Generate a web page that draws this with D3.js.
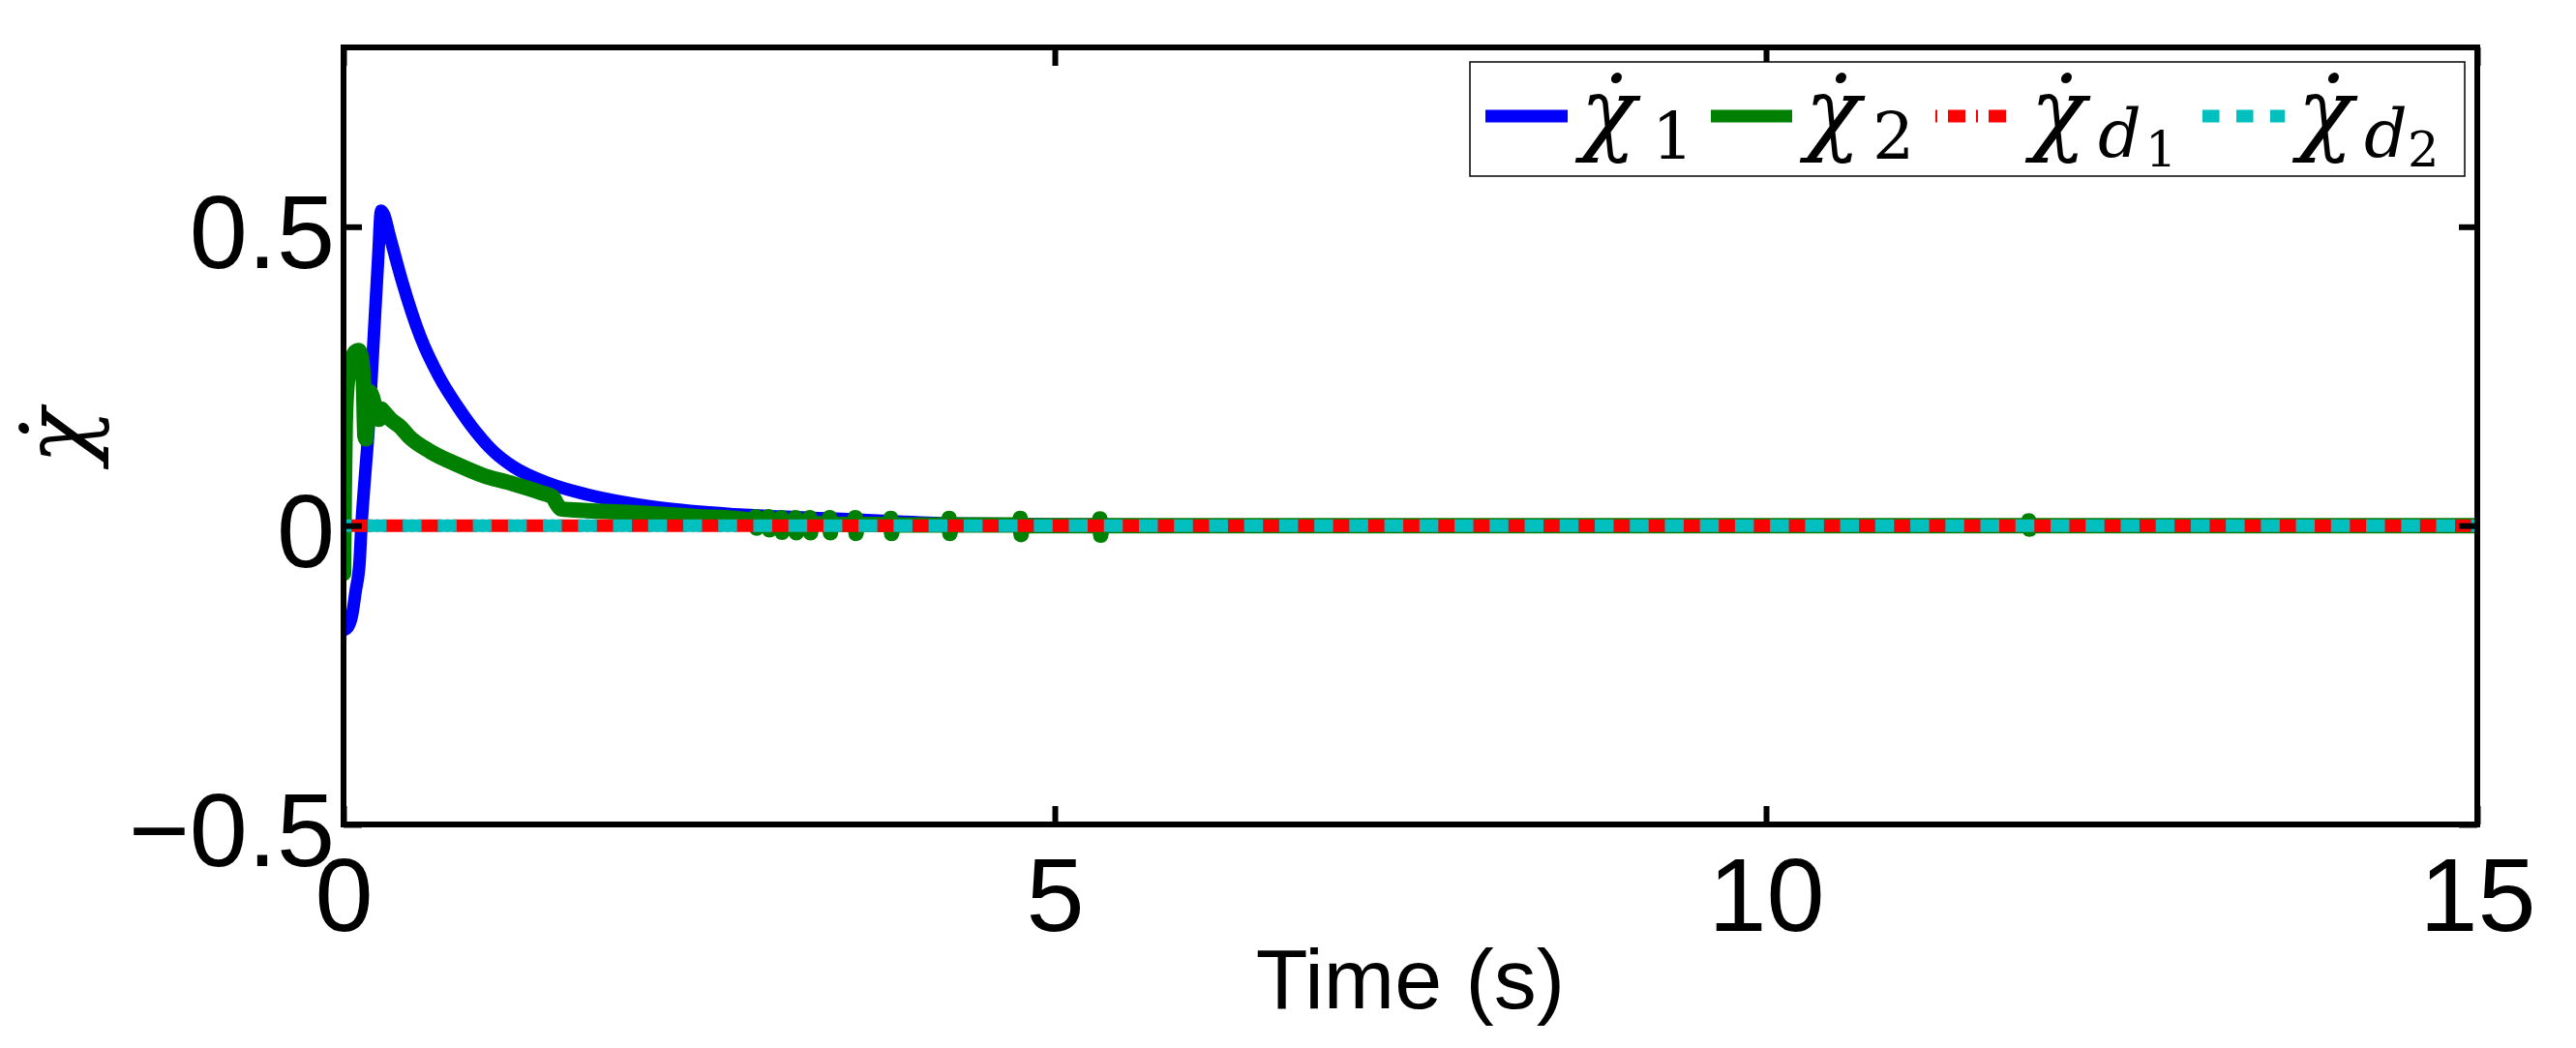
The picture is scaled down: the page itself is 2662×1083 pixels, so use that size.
<!DOCTYPE html>
<html>
<head>
<meta charset="utf-8">
<script src="https://cdn.jsdelivr.net/npm/d3@7"></script>
<style>
  body { margin: 0; background: #fff; }
</style>
</head>
<body>
<div id="chart"></div>
<script>
var svgWidth = 2662;
var svgHeight = 1083;
var margin = {top: 49, right: 102, bottom: 231, left: 355};
var width = svgWidth - margin.left - margin.right;
var height = svgHeight - margin.top - margin.bottom;

var xTicks = [0, 5, 10, 15];
var xTickLabels = ["0", "5", "10", "15"];
var yTicks = [-0.5, 0, 0.5];
var yTickLabels = ["\u22120.5", "0", "0.5"];

// [time, value]
var chi1 = [
  [0, -0.175], [0.03, -0.17], [0.06, -0.15], [0.085, -0.11], [0.113, -0.06],
  [0.126, 0], [0.15, 0.08], [0.175, 0.157], [0.209, 0.30], [0.243, 0.445],
  [0.264, 0.527], [0.285, 0.52], [0.32, 0.489], [0.41, 0.41], [0.54, 0.316],
  [0.67, 0.25], [0.80, 0.20], [0.93, 0.157], [1.05, 0.125], [1.19, 0.099],
  [1.45, 0.07], [1.71, 0.052], [2.0, 0.038], [2.23, 0.03], [2.75, 0.019],
  [3.5, 0.011], [4.2, 0.004], [5.0, 0.002], [6.0, 0.001], [8.0, 0], [15, 0]
];

var chi2 = [
  [0, -0.08], [0.005, 0.05], [0.012, 0.17], [0.025, 0.235], [0.05, 0.27],
  [0.08, 0.29], [0.107, 0.293], [0.125, 0.28], [0.14, 0.24], [0.15, 0.15],
  [0.158, 0.145], [0.166, 0.2], [0.175, 0.225], [0.195, 0.22], [0.215, 0.205],
  [0.235, 0.18], [0.25, 0.178], [0.265, 0.195], [0.285, 0.19], [0.33, 0.178],
  [0.4, 0.165], [0.46, 0.149], [0.61, 0.124], [0.8, 0.102], [0.98, 0.084],
  [1.19, 0.07], [1.39, 0.055], [1.47, 0.048], [1.5, 0.036], [1.53, 0.028],
  [1.71, 0.025], [2.0, 0.022], [2.23, 0.019], [2.5, 0.015], [2.75, 0.012],
  [2.89, 0.009], [2.897, 0.015], [2.903, -0.004], [2.91, 0.008],
  [2.98, 0.007], [2.987, 0.015], [2.993, -0.007], [3.0, 0.006],
  [3.07, 0.004], [3.077, 0.013], [3.083, -0.011], [3.09, 0.003],
  [3.17, 0.004], [3.177, 0.013], [3.183, -0.012], [3.19, 0.003],
  [3.27, 0.004], [3.277, 0.013], [3.283, -0.012], [3.29, 0.003],
  [3.41, 0.003], [3.417, 0.013], [3.423, -0.012], [3.43, 0.002],
  [3.59, 0.002], [3.597, 0.013], [3.603, -0.013], [3.61, 0.002],
  [3.84, 0.002], [3.847, 0.012], [3.853, -0.013], [3.86, 0.001],
  [4.25, 0.001], [4.257, 0.012], [4.263, -0.013], [4.27, 0.001],
  [4.75, 0.001], [4.757, 0.012], [4.763, -0.015], [4.77, 0],
  [5.31, 0], [5.317, 0.011], [5.323, -0.016], [5.33, 0],
  [6.0, 0], [11.84, 0], [11.847, 0.008], [11.853, -0.006], [11.86, 0], [15, 0]
];

var chiD1 = [[0, 0], [15, 0]];
var chiD2 = [[0, 0], [15, 0]];

var legendSub = ["1", "2", "d", "d"];
var legendSubSub = ["", "", "1", "2"];

var mathFont = "'DejaVu Serif', serif";
var axisFont = "'Liberation Sans', Arial, sans-serif";

var svg = d3.select("#chart")
  .append("svg")
  .attr("width", svgWidth)
  .attr("height", svgHeight);

var chartMain = svg.append("g")
  .attr("transform", `translate(${margin.left}, ${margin.top})`);

var xLinearScale = d3.scaleLinear().domain([0, 15]).range([0, width]);
var yLinearScale = d3.scaleLinear().domain([-0.5, 0.8]).range([height, 0]);

chartMain.append("clipPath")
  .attr("id", "plotclip")
  .append("rect")
  .attr("width", width)
  .attr("height", height);

var line = d3.line()
  .x(d => xLinearScale(d[0]))
  .y(d => yLinearScale(d[1]))
  .curve(d3.curveMonotoneX);

var plot = chartMain.append("g").attr("clip-path", "url(#plotclip)");

plot.append("path").datum(chi1)
  .attr("d", line)
  .attr("fill", "none")
  .attr("stroke", "#0000ff")
  .attr("stroke-width", 13)
  .attr("stroke-linejoin", "round")
  .attr("stroke-linecap", "round");

plot.append("path").datum(chi2)
  .attr("d", line)
  .attr("fill", "none")
  .attr("stroke", "#008000")
  .attr("stroke-width", 16)
  .attr("stroke-linejoin", "round")
  .attr("stroke-linecap", "round");

plot.append("path").datum(chiD1)
  .attr("d", line)
  .attr("fill", "none")
  .attr("stroke", "#ff0000")
  .attr("stroke-width", 13)
  .attr("stroke-dasharray", "24.23,5,2,5")
  .attr("stroke-dashoffset", 31.63);

plot.append("path").datum(chiD2)
  .attr("d", line)
  .attr("fill", "none")
  .attr("stroke", "#00bfbf")
  .attr("stroke-width", 13)
  .attr("stroke-dasharray", "19.5,16.73")
  .attr("stroke-dashoffset", 11.3);

// axes, box with inward ticks on all four sides
var bottomAxis = d3.axisBottom(xLinearScale)
  .tickValues(xTicks)
  .tickFormat((d, i) => xTickLabels[i])
  .tickSize(-19)
  .tickPadding(33);
var topAxis = d3.axisTop(xLinearScale).tickValues(xTicks).tickFormat("").tickSize(-19);
var leftAxis = d3.axisLeft(yLinearScale)
  .tickValues(yTicks)
  .tickFormat((d, i) => yTickLabels[i])
  .tickSize(-19)
  .tickPadding(9);
var rightAxis = d3.axisRight(yLinearScale).tickValues(yTicks).tickFormat("").tickSize(-19);

var gx = chartMain.append("g").attr("transform", `translate(0, ${height})`).call(bottomAxis);
var gt = chartMain.append("g").call(topAxis);
var gy = chartMain.append("g").call(leftAxis);
var gr = chartMain.append("g").attr("transform", `translate(${width}, 0)`).call(rightAxis);

[gx, gt, gy, gr].forEach(function(g) {
  g.select(".domain").remove();
  g.selectAll(".tick line").attr("stroke", "#000").attr("stroke-width", 6);
  g.selectAll(".tick text")
    .attr("fill", "#000")
    .style("font-family", axisFont)
    .style("font-size", "108px");
});
gy.selectAll(".tick text").attr("dy", "0.39em");

chartMain.append("rect")
  .attr("width", width)
  .attr("height", height)
  .attr("fill", "none")
  .attr("stroke", "#000")
  .attr("stroke-width", 6);

chartMain.append("text")
  .attr("x", width / 2)
  .attr("y", 993)
  .attr("text-anchor", "middle")
  .style("font-family", axisFont)
  .style("font-size", "88px")
  .text("Time (s)");

// chi with combining dot above
function chiDot(g, cx, baseY) {
  g.append("text")
    .attr("x", cx).attr("y", baseY)
    .attr("text-anchor", "middle")
    .style("font-family", mathFont)
    .style("font-style", "italic")
    .style("font-size", "95px")
    .text("\u03c7\u0307");
}

var yLabel = svg.append("g").attr("transform", "translate(92, 451) rotate(-90)");
chiDot(yLabel, 0, 0);

// legend
var legend = svg.append("g").attr("transform", "translate(1519, 64)");
legend.append("rect")
  .attr("width", 1028)
  .attr("height", 118)
  .attr("fill", "#fff")
  .attr("stroke", "#000")
  .attr("stroke-width", 1.5);

var legendItems = [
  {color: "#0000ff", x0: 16, len: 85, dash: null, chiX: 143, subX: 188, subsubX: 0},
  {color: "#008000", x0: 249, len: 84, dash: null, chiX: 375, subX: 416, subsubX: 0},
  {color: "#ff0000", x0: 481, len: 73, dash: "2,11,18,11", chiX: 608, subX: 649, subsubX: 698},
  {color: "#00bfbf", x0: 757, len: 85, dash: "17.5,17.5", chiX: 884, subX: 924, subsubX: 969}
];

legendItems.forEach(function(item, i) {
  legend.append("line")
    .attr("x1", item.x0).attr("x2", item.x0 + item.len)
    .attr("y1", 56).attr("y2", 56)
    .attr("stroke", item.color)
    .attr("stroke-width", 13)
    .attr("stroke-dasharray", item.dash);

  chiDot(legend, item.chiX, 84);

  var isDigit = legendSubSub[i] === "";
  var sub = legend.append("text")
    .attr("x", item.subX).attr("y", isDigit ? 100 : 98)
    .style("font-family", mathFont);
  sub.append("tspan")
    .style("font-style", isDigit ? "normal" : "italic")
    .style("font-size", isDigit ? "68px" : "70px")
    .text(legendSub[i]);
  if (!isDigit) {
    sub.append("tspan")
      .attr("x", item.subsubX).attr("dy", 10)
      .style("font-size", "51px")
      .text(legendSubSub[i]);
  }
});
</script>
</body>
</html>
